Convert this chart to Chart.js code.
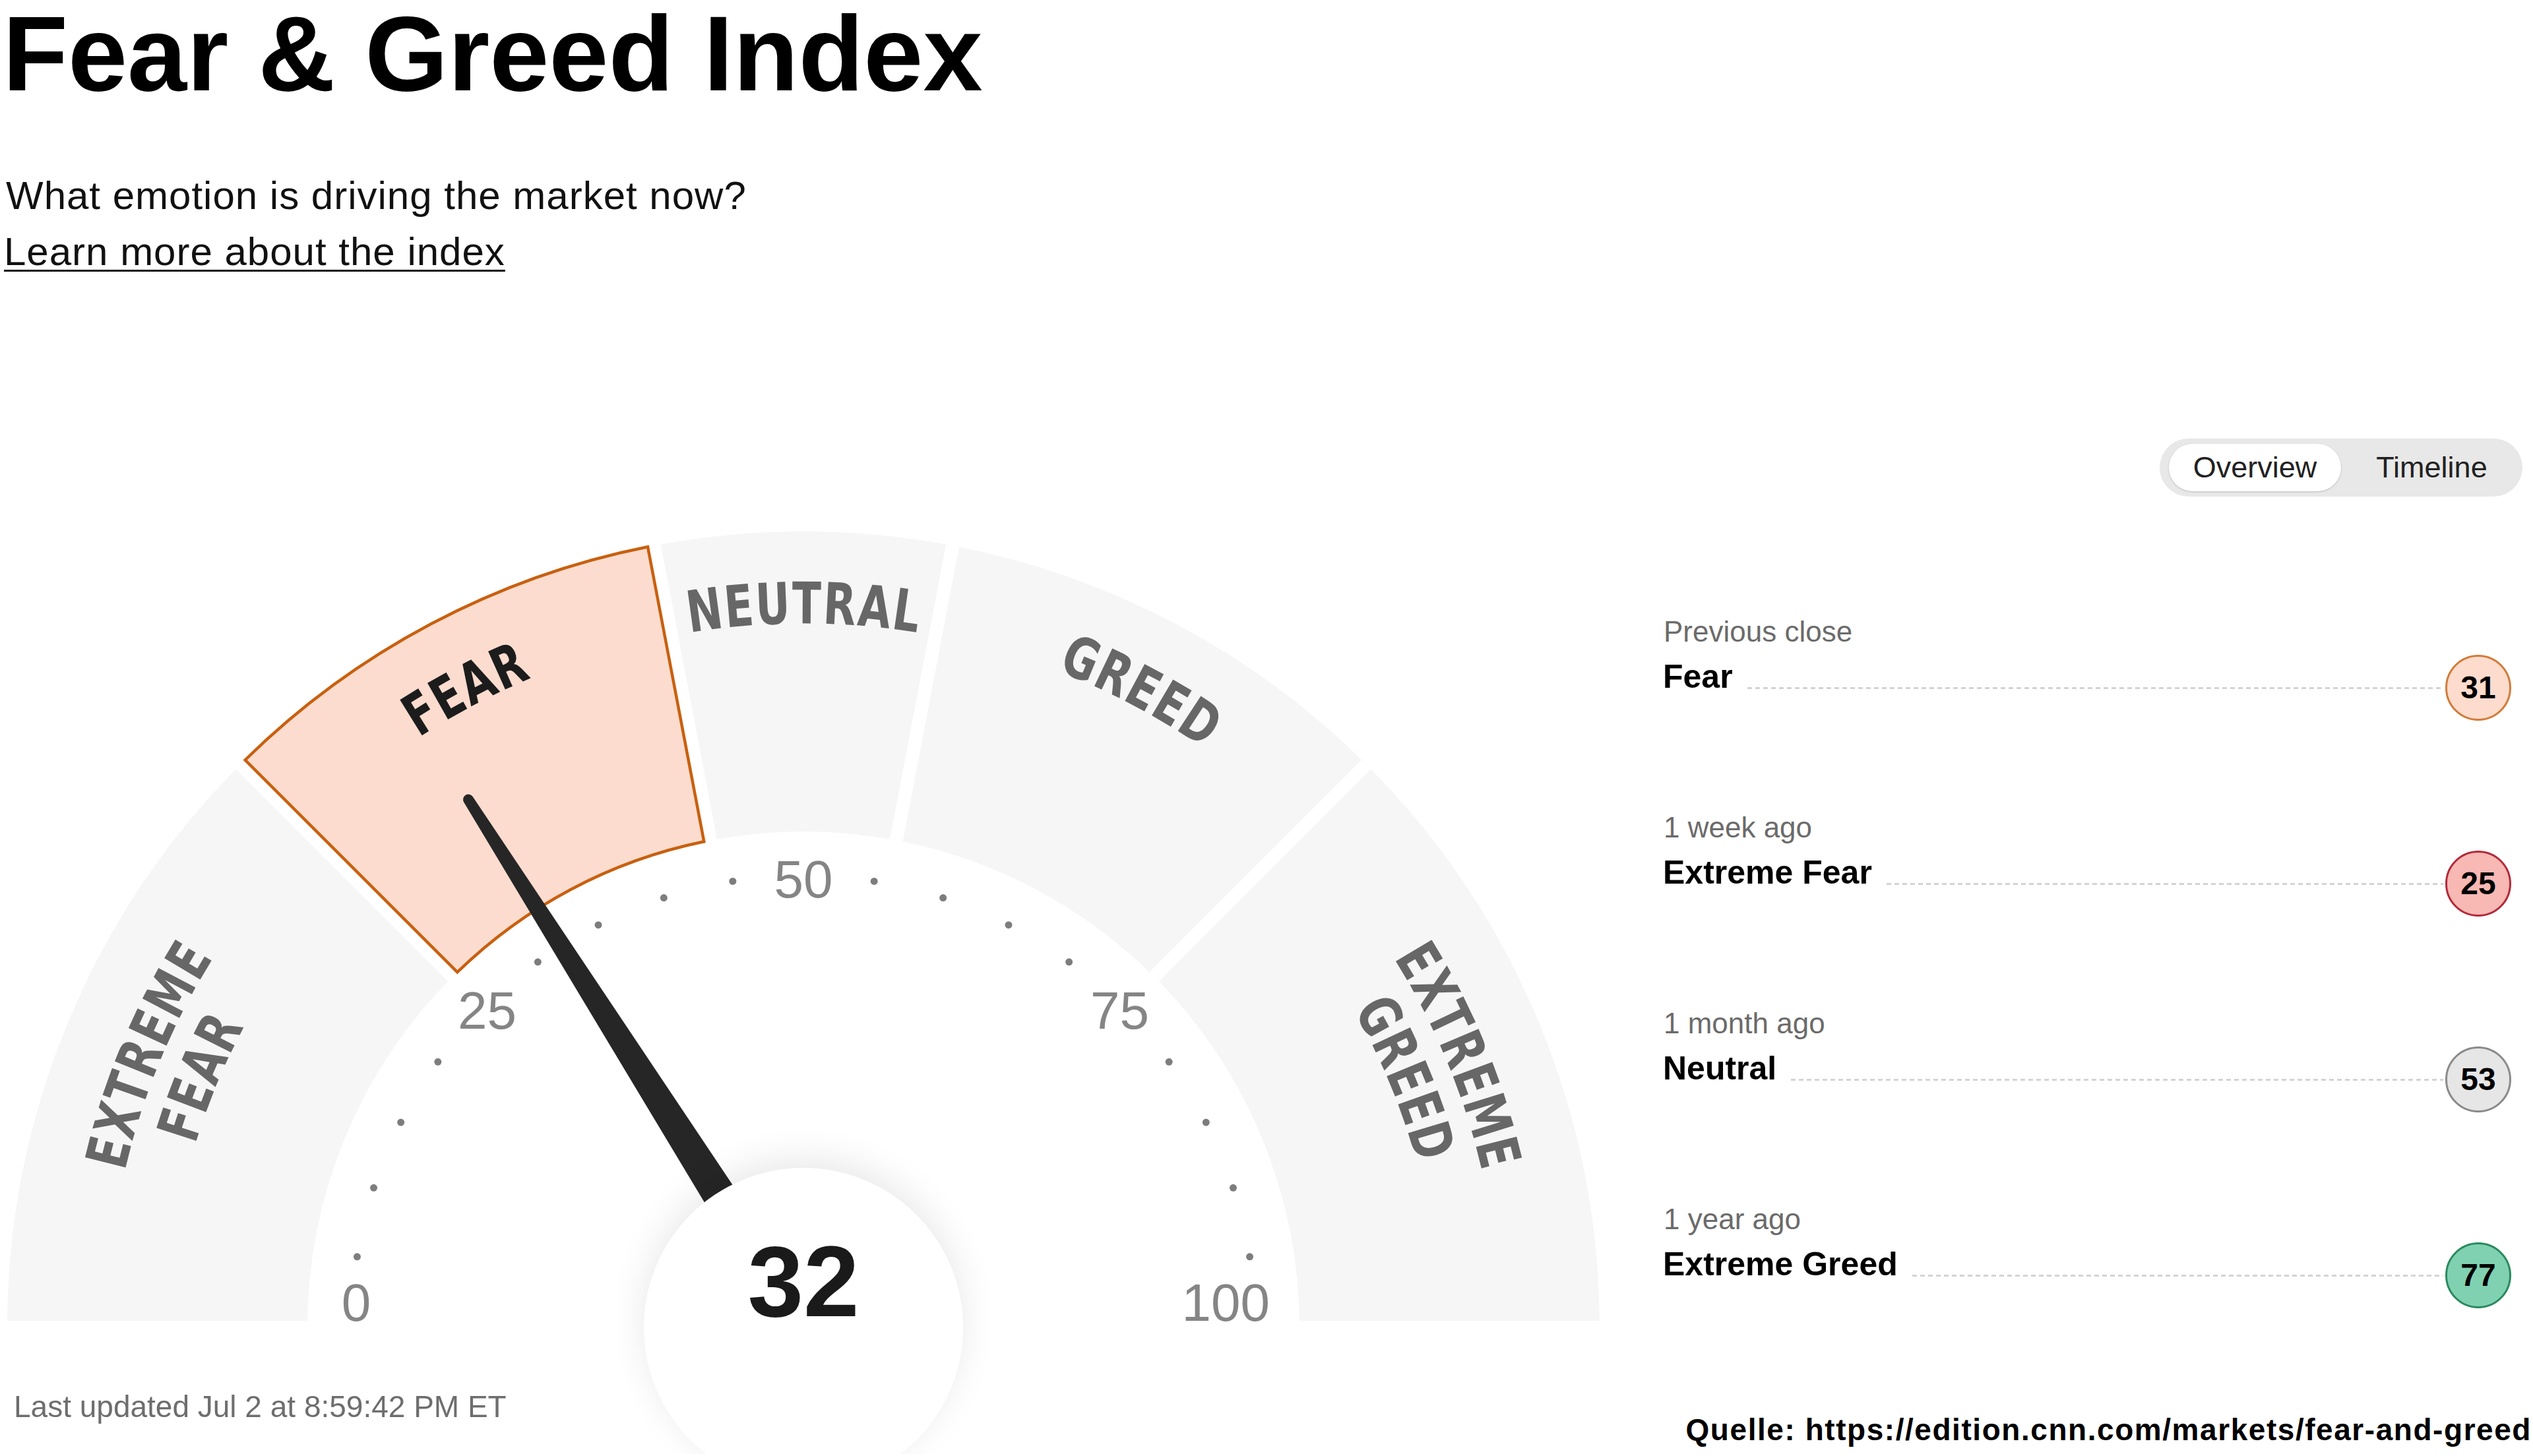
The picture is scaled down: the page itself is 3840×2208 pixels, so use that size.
<!DOCTYPE html>
<html>
<head>
<meta charset="utf-8">
<title>Fear &amp; Greed Index</title>
<script src="https://cdn.jsdelivr.net/npm/chart.js@4/dist/chart.umd.min.js"></script>
<style>
    html, body {
        margin: 0;
        padding: 0;
        background: #fff;
    }
    body {
        width: 3840px;
        height: 2208px;
        position: relative;
        overflow: hidden;
        font-family: "Liberation Sans", Arial, sans-serif;
        color: #000;
    }
    .abs {
        position: absolute;
        line-height: 1;
        white-space: nowrap;
    }
    #title { left: 4px; top: 0px; font-size: 162px; font-weight: 700; }
    #subtitle { left: 9px; top: 267px; font-size: 60px; letter-spacing: 1px; color: #111; }
    #learn {
        left: 6px; top: 352px; font-size: 60px; letter-spacing: 1px; color: #111;
        text-decoration: underline; text-decoration-thickness: 3px; text-underline-offset: 7px;
    }
    #updated { left: 21px; top: 2110px; font-size: 46px; color: #6e6e6e; }
    #source { right: 2px; top: 2145px; font-size: 46px; font-weight: 700; color: #000; }
    #gaugeBox { position: absolute; left: 0; top: 604px; width: 2436px; height: 1601px; }

    /* toggle */
    #toggle {
        position: absolute; left: 3274px; top: 665px; width: 550px; height: 88px;
        border-radius: 44px; background: #e8e8e8;
    }
    #toggle .on {
        position: absolute; left: 14px; top: 8px; width: 261px; height: 72px;
        border-radius: 36px; background: #fff; box-shadow: 0 1px 3px rgba(0,0,0,0.18);
    }
    #toggle span {
        position: absolute; top: 0; height: 88px; display: flex; align-items: center;
        justify-content: center; font-size: 45px; color: #222;
    }

    /* history list */
    .period { position: absolute; left: 2522px; font-size: 44px; line-height: 1; color: #6b6b6b; white-space: nowrap; }
    .rowLine {
        position: absolute; left: 2521px; width: 1286px; height: 100px;
        display: flex; align-items: center;
    }
    .rating { font-size: 50px; font-weight: 700; line-height: 1; position: relative; top: -17px; white-space: nowrap; }
    .dots {
        flex: 1; height: 3px; margin: 0 3px 0 22px;
        background: repeating-linear-gradient(to right, #d4d4d4 0 7px, transparent 7px 12px);
    }
    .badge {
        width: 100px; height: 100px; box-sizing: border-box; border-radius: 50%;
        border: 3px solid #888; display: flex; align-items: center; justify-content: center;
        font-size: 48px; font-weight: 700; line-height: 1;
    }
</style>
</head>
<body>
<div id="title" class="abs">Fear &amp; Greed Index</div>
<div id="subtitle" class="abs">What emotion is driving the market now?</div>
<div id="learn" class="abs">Learn more about the index</div>

<div id="gaugeBox"><canvas id="gauge" width="2436" height="1601"></canvas></div>

<div id="toggle">
    <div class="on"></div>
    <span style="left:14px;width:261px;">Overview</span>
    <span style="left:275px;width:275px;">Timeline</span>
</div>

<div id="history"></div>

<div id="updated" class="abs">Last updated Jul 2 at 8:59:42 PM ET</div>
<div id="source" class="abs">Quelle: https://edition.cnn.com/markets/fear-and-greed</div>

<script>
// Gauge zones (width of each zone in index points, 0..100)
const zoneLabels = ['EXTREME FEAR', 'FEAR', 'NEUTRAL', 'GREED', 'EXTREME GREED'];
const zoneSpans = [25, 19, 12, 19, 25];

// Current reading
const currentValue = 32;

// Scale
const tickValues = [0, 25, 50, 75, 100];
const dotValues = [5, 10, 15, 20, 30, 35, 40, 45, 55, 60, 65, 70, 80, 85, 90, 95];

// Historical readings
const historyPeriods = ['Previous close', '1 week ago', '1 month ago', '1 year ago'];
const historyRatings = ['Fear', 'Extreme Fear', 'Neutral', 'Extreme Greed'];
const historyValues = [31, 25, 53, 77];

// badge fill / border per rating
const ratingColors = {
    'Extreme Fear': ['#f8b8b4', '#b12a3a'],
    'Fear': ['#fddccd', '#d27b3a'],
    'Neutral': ['#e6e6e6', '#8a8a8a'],
    'Greed': ['#bfe8d6', '#3f9d72'],
    'Extreme Greed': ['#80d1b1', '#2a8a5e']
};

// find the zone the current value falls in
function findZone(value) {
    let acc = 0;
    for (let i = 0; i < zoneSpans.length; i++) {
        if (value < acc + zoneSpans[i]) {
            return i;
        }
        acc += zoneSpans[i];
    }
    return zoneSpans.length - 1;
}
const activeZone = findZone(currentValue);

// Draw a word letter by letter along a circle
function drawCurvedText(ctx, text, cx, cy, radius, midAngle, squeeze, spacing) {
    const chars = [...text];
    const widths = chars.map((ch) => ctx.measureText(ch).width * squeeze);
    const total = widths.reduce((s, w) => s + w, 0) + spacing * (chars.length - 1);
    let a = midAngle - total / 2 / radius;
    chars.forEach((ch, i) => {
        const ac = a + (widths[i] / 2) / radius;
        ctx.save();
        ctx.translate(cx + radius * Math.cos(ac), cy + radius * Math.sin(ac));
        ctx.rotate(ac + Math.PI / 2);
        ctx.scale(squeeze, 1);
        ctx.fillText(ch, 0, 0);
        ctx.restore();
        a += (widths[i] + spacing) / radius;
    });
}

const gaugeDecor = {
    id: 'gaugeDecor',
    afterDatasetsDraw(chart) {
        const ctx = chart.ctx;
        const arcs = chart.getDatasetMeta(0).data;
        const first = arcs[0];
        const last = arcs[arcs.length - 1];
        const cx = first.x;
        const cy = first.y;
        const gap = 10; // half the white border between zones
        const total = zoneSpans.reduce((s, v) => s + v, 0);
        const toAngle = (v) => first.startAngle + (v / total) * (last.endAngle - first.startAngle);

        // outline of the highlighted zone
        const act = arcs[activeZone];
        const ro = act.outerRadius - gap;
        const ri = act.innerRadius + gap;
        const dOut = Math.asin(gap / ro);
        const dIn = Math.asin(gap / ri);
        ctx.save();
        ctx.beginPath();
        ctx.arc(cx, cy, ro, act.startAngle + dOut, act.endAngle - dOut);
        ctx.arc(cx, cy, ri, act.endAngle - dIn, act.startAngle + dIn, true);
        ctx.closePath();
        ctx.lineWidth = 4.5;
        ctx.lineJoin = 'miter';
        ctx.strokeStyle = '#c8600f';
        ctx.stroke();
        ctx.restore();

        // zone names
        const zoneFont = 87;
        ctx.save();
        ctx.font = `bold ${zoneFont}px "Liberation Sans Narrow", "DejaVu Sans Condensed", "Liberation Sans", sans-serif`;
        ctx.textAlign = 'center';
        ctx.textBaseline = 'alphabetic';
        const squeeze = Math.min(1, 335 / ctx.measureText('NEUTRAL').width);
        const capHalf = zoneFont * 0.36;
        arcs.forEach((arc, i) => {
            const mid = (arc.startAngle + arc.endAngle) / 2;
            const lines = zoneLabels[i].split(' ');
            const radii = lines.length > 1 ? [1087, 994] : [1099];
            ctx.fillStyle = i === activeZone ? '#1c1c1c' : '#676767';
            lines.forEach((line, j) => {
                drawCurvedText(ctx, line, cx, cy, radii[j] - capHalf, mid, squeeze, 2);
            });
        });
        ctx.restore();

        // scale dots
        ctx.save();
        ctx.fillStyle = '#7d7d7d';
        dotValues.forEach((v) => {
            const a = toAngle(v);
            ctx.beginPath();
            ctx.arc(cx + 685 * Math.cos(a), cy + 685 * Math.sin(a), 5.5, 0, Math.PI * 2);
            ctx.fill();
        });

        // scale numbers
        const tickFont = 80;
        const labelR = 678;
        ctx.font = `${tickFont}px "Liberation Sans", Arial, sans-serif`;
        ctx.fillStyle = '#858585';
        ctx.textAlign = 'left';
        ctx.textBaseline = 'alphabetic';
        tickValues.forEach((v) => {
            const a = toAngle(v);
            const text = String(v);
            const w = ctx.measureText(text).width;
            let x = cx + labelR * Math.cos(a) - w / 2;
            x = Math.max(cx - 707, Math.min(x, cx + 707 - w));
            let base = cy + labelR * Math.sin(a) + tickFont * 0.33;
            base = Math.min(base, cy - 10);
            ctx.fillText(text, x, base);
        });
        ctx.restore();

        // needle
        const na = toAngle(currentValue);
        const ux = Math.cos(na);
        const uy = Math.sin(na);
        const px = -uy;
        const py = ux;
        const tipR = 948;
        const baseHW = 31;
        const tipHW = 8;
        ctx.save();
        ctx.fillStyle = '#262626';
        ctx.beginPath();
        ctx.moveTo(cx + px * baseHW, cy + py * baseHW);
        ctx.lineTo(cx + ux * tipR + px * tipHW, cy + uy * tipR + py * tipHW);
        ctx.arc(cx + ux * tipR, cy + uy * tipR, tipHW, na + Math.PI / 2, na - Math.PI / 2, true);
        ctx.lineTo(cx - px * baseHW, cy - py * baseHW);
        ctx.closePath();
        ctx.fill();
        ctx.restore();

        // hub with soft shadow
        ctx.save();
        ctx.shadowColor = 'rgba(0,0,0,0.09)';
        ctx.shadowBlur = 55;
        ctx.shadowOffsetY = -14;
        ctx.fillStyle = '#ffffff';
        ctx.beginPath();
        ctx.arc(cx, cy, 242, 0, Math.PI * 2);
        ctx.fill();
        ctx.restore();

        // current value
        ctx.save();
        ctx.font = 'bold 152px "Liberation Sans", Arial, sans-serif';
        ctx.textAlign = 'center';
        ctx.textBaseline = 'alphabetic';
        ctx.fillStyle = '#1a1a1a';
        ctx.fillText(String(currentValue), cx, cy - 17);
        ctx.restore();
    }
};

function drawGauge() {
    const ctx = document.getElementById('gauge').getContext('2d');
    new Chart(ctx, {
        type: 'doughnut',
        data: {
            labels: zoneLabels,
            datasets: [{
                data: zoneSpans,
                backgroundColor: zoneSpans.map((_, i) => i === activeZone ? '#fcdccf' : '#f6f6f6'),
                borderColor: '#ffffff',
                borderWidth: 20,
                borderJoinStyle: 'miter'
            }]
        },
        options: {
            responsive: false,
            animation: false,
            events: [],
            rotation: -90,
            circumference: 180,
            radius: 1217,
            cutout: '60.97%',
            plugins: {
                legend: { display: false },
                tooltip: { enabled: false }
            }
        },
        plugins: [gaugeDecor]
    });
}

function buildHistory() {
    const box = document.getElementById('history');
    let html = '';
    for (let i = 0; i < historyPeriods.length; i++) {
        const colors = ratingColors[historyRatings[i]];
        const topLabel = 936 + i * 297;
        const topRow = 993 + i * 297;
        html += `<div class="period" style="top:${topLabel}px">${historyPeriods[i]}</div>`;
        html += `<div class="rowLine" style="top:${topRow}px">` +
            `<span class="rating">${historyRatings[i]}</span>` +
            `<span class="dots"></span>` +
            `<span class="badge" style="background:${colors[0]};border-color:${colors[1]}">${historyValues[i]}</span>` +
            `</div>`;
    }
    box.insertAdjacentHTML('beforeend', html);
}

// stretch the source line to the width it has in the original
function fitSource() {
    const el = document.getElementById('source');
    const text = el.textContent;
    el.style.letterSpacing = '0px';
    const w = el.getBoundingClientRect().width;
    const ls = (1281 - w) / (text.length - 1);
    el.style.letterSpacing = `${ls.toFixed(2)}px`;
}

buildHistory();
fitSource();
drawGauge();
</script>
</body>
</html>
